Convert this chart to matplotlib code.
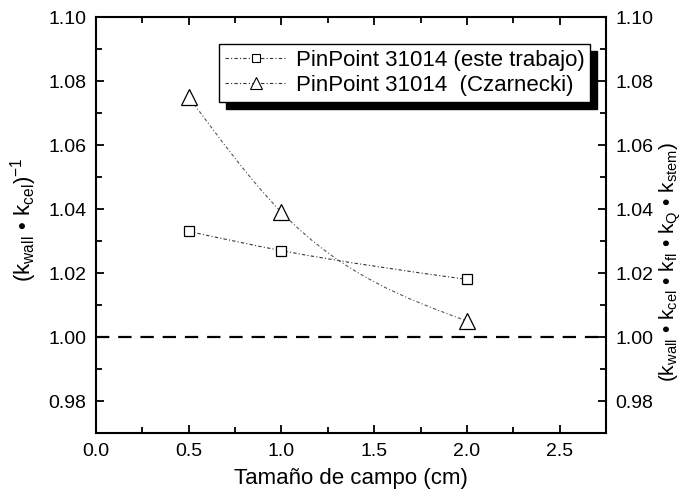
import numpy as np
import matplotlib
matplotlib.use("Agg")
import matplotlib.pyplot as plt
from matplotlib.path import Path
from matplotlib.patches import PathPatch
from matplotlib.ticker import MultipleLocator, FormatStrFormatter

plt.rcParams['font.family'] = ['Liberation Sans', 'DejaVu Sans']
plt.rcParams['mathtext.fontset'] = 'custom'
plt.rcParams['mathtext.rm'] = 'Liberation Sans'
plt.rcParams['mathtext.it'] = 'Liberation Sans'

campo = [0.5, 1.0, 2.0]
este_trabajo = [1.033, 1.027, 1.018]
czarnecki = [1.075, 1.039, 1.005]
nombres = ['PinPoint 31014 (este trabajo)', 'PinPoint 31014  (Czarnecki)']


def curva(ax, xs, ys, **kw):
    # spline cubico natural, cada tramo dibujado como Bezier cubica
    x = np.asarray(xs, float)
    y = np.asarray(ys, float)
    n = len(x)
    h = np.diff(x)
    d = np.diff(y) / h
    A = np.zeros((n, n))
    r = np.zeros(n)
    A[0, 0] = A[-1, -1] = 1
    for i in range(1, n - 1):
        A[i, i - 1] = h[i - 1]
        A[i, i] = 2 * (h[i - 1] + h[i])
        A[i, i + 1] = h[i]
        r[i] = 6 * (d[i] - d[i - 1])
    M = np.linalg.solve(A, r)
    verts = [(x[0], y[0])]
    codes = [Path.MOVETO]
    for i in range(n - 1):
        s0 = d[i] - h[i] * (2 * M[i] + M[i + 1]) / 6
        s1 = d[i] + h[i] * (M[i] + 2 * M[i + 1]) / 6
        verts += [(x[i] + h[i] / 3, y[i] + s0 * h[i] / 3),
                  (x[i + 1] - h[i] / 3, y[i + 1] - s1 * h[i] / 3),
                  (x[i + 1], y[i + 1])]
        codes += [Path.CURVE4] * 3
    ax.add_patch(PathPatch(Path(verts, codes), fill=False, **kw))


fig, ax = plt.subplots(figsize=(6.84, 4.91), dpi=100)
fig.subplots_adjust(left=96/684, right=606/684, top=1-17/491, bottom=1-433/491)

ls = (0, (3, 2, 1, 2))
curva(ax, campo, este_trabajo, edgecolor='#333333', linewidth=0.8, linestyle=ls)
curva(ax, campo, czarnecki, edgecolor='#555555', linewidth=0.8, linestyle=ls)
ax.plot(campo, este_trabajo, linestyle='none', marker='s', markersize=7.5,
        markerfacecolor='white', markeredgecolor='black', markeredgewidth=0.9, zorder=3)
ax.plot(campo, czarnecki, linestyle='none', marker='^', markersize=11,
        markerfacecolor='white', markeredgecolor='black', markeredgewidth=0.9, zorder=3)

ax.axhline(1.0, color='black', linewidth=1.6, dashes=(6, 4))

ax.set_xlim(0, 2.75)
ax.set_ylim(0.97, 1.10)
ax.xaxis.set_major_locator(MultipleLocator(0.5))
ax.xaxis.set_minor_locator(MultipleLocator(0.25))
ax.yaxis.set_minor_locator(MultipleLocator(0.01))
ax.set_yticks([0.98, 1.00, 1.02, 1.04, 1.06, 1.08, 1.10])
ax.tick_params(which='both', direction='in', top=True, right=True,
               labelright=True, labelsize=14, width=1.3)
ax.tick_params(which='major', length=6, pad=7)
ax.tick_params(which='minor', length=4)
ax.yaxis.set_major_formatter(FormatStrFormatter('%.2f'))
ax.xaxis.set_major_formatter(FormatStrFormatter('%.1f'))
for s in ax.spines.values():
    s.set_linewidth(1.5)

b = r'\ \text{•}\ '
ax.set_xlabel('Tamaño de campo (cm)', fontsize=16, labelpad=6)
fig.text(24/684, 1 - 220/491,
         r'$(\mathrm{k}_{\mathrm{wall}}' + b + r'\mathrm{k}_{\mathrm{cel}})^{-1}$',
         rotation=90, fontsize=16, ha='center', va='center')
fig.text(670/684, 1 - 262/491,
         r'$(\mathrm{k}_{\mathrm{wall}}' + b + r'\mathrm{k}_{\mathrm{cel}}' + b +
         r'\mathrm{k}_{\mathrm{fl}}' + b + r'\mathrm{k}_{\mathrm{Q}}' + b +
         r'\mathrm{k}_{\mathrm{stem}})$',
         rotation=90, fontsize=15, ha='center', va='center')

leg_handles = []
for m, ms in [('s', 6), ('^', 8)]:
    leg_handles.append(plt.Line2D([], [], color='#333333', linestyle=ls, linewidth=0.8,
                                  marker=m, markersize=ms, markerfacecolor='white',
                                  markeredgecolor='black', markeredgewidth=0.8))
leg = ax.legend(leg_handles, nombres, loc='upper right', bbox_to_anchor=(0.969, 0.935),
                fontsize=16, frameon=True, fancybox=False, handlelength=2.8,
                borderpad=0.25, labelspacing=0.2, handletextpad=0.4, borderaxespad=0,
                shadow={'color': 'black', 'alpha': 1, 'ox': 5, 'oy': -5})
leg.get_frame().set_edgecolor('black')
leg.get_frame().set_linewidth(1.0)

fig.savefig('out.png', dpi=100)
